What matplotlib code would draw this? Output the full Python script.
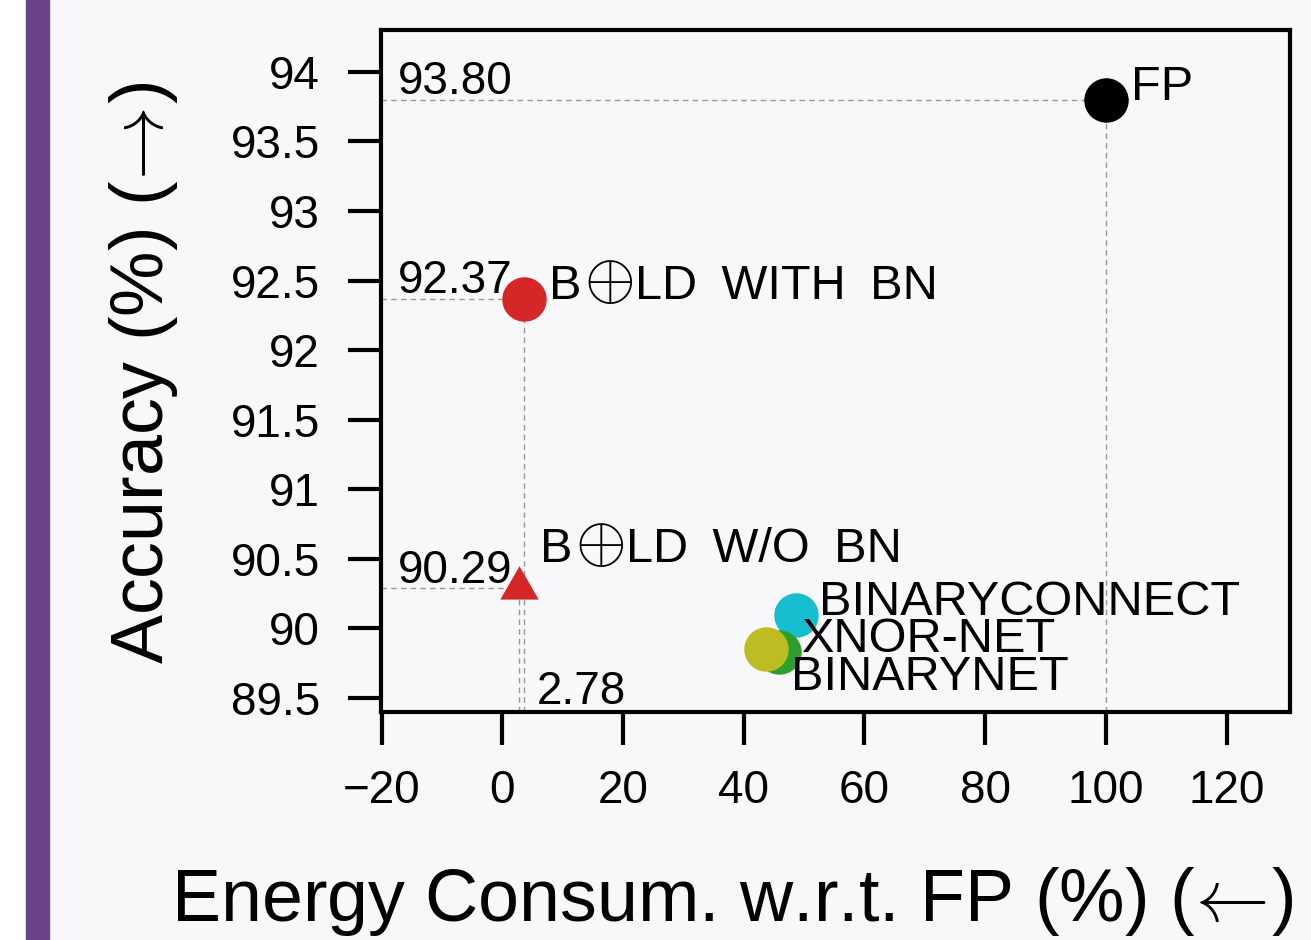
import numpy as np
import matplotlib.pyplot as plt
from matplotlib.patches import Rectangle

plt.rcParams['font.family'] = ['Liberation Sans', 'DejaVu Sans']
plt.rcParams['mathtext.fontset'] = 'cm'

# data: energy consumption w.r.t. FP (%) and accuracy (%)
names = ['FP', 'B\u2295LD WITH BN', 'B\u2295LD W/O BN',
         'BINARYCONNECT', 'XNOR-NET', 'BINARYNET']
energy = [100, 3.6, 2.78, 48.6, 45.8, 43.7]
acc = [93.80, 92.37, 90.29, 90.10, 89.83, 89.85]
colors = ['black', '#d62728', '#d62728', '#17becf', '#2ca02c', '#bcbd22']
markers = ['o', 'o', (3, 0, 0), 'o', 'o', 'o']
guides = [True, True, True, False, False, False]
offsets = [(18, 0), (18, 0), (15, 19), (17, 0), (17, 0), (18, -29)]

xticks = [-20, 0, 20, 40, 60, 80, 100, 120]
yticks = [89.5, 90, 90.5, 91, 91.5, 92, 92.5, 93, 93.5, 94]

bg = '#f8f8fb'
W, H = 1311, 940

fig = plt.figure(figsize=(W / 100, H / 100), dpi=100, facecolor=bg)
fig.patches.append(Rectangle((0, 0), 25.5 / W, 1, transform=fig.transFigure,
                             color='white', zorder=0))
fig.patches.append(Rectangle((25.5 / W, 0), 23.5 / W, 1, transform=fig.transFigure,
                             color='#6a4489', zorder=0))

ax = fig.add_axes([381 / W, 1 - 712 / H, 909 / W, 682 / H])
ax.set_facecolor(bg)
x0, x1 = -20.1, 130.5
y0, y1 = 89.4, 94.3
ax.set_xlim(x0, x1)
ax.set_ylim(y0, y1)

dash = (0, (4, 3))
for i in range(len(names)):
    if guides[i]:
        ax.hlines(acc[i], x0, energy[i], colors='#999999', linestyles=dash, lw=1, zorder=1)
        ax.vlines(energy[i], y0, acc[i], colors='#999999', linestyles=dash, lw=1, zorder=1)
        ax.annotate('%.2f' % acc[i], (x0, acc[i]), xytext=(12, 4),
                    textcoords='offset points', fontsize=33, va='baseline')
    ax.plot(energy[i], acc[i], marker=markers[i], ms=32, mew=0,
            color=colors[i], ls='none', zorder=3)

# energy value of the model without BN
ax.annotate('%.2f' % energy[2], (energy[2], y0), xytext=(13, 6),
            textcoords='offset points', fontsize=33, va='baseline')

# point labels; the circled plus is drawn bigger, like in the paper
rend = fig.canvas.get_renderer()
for i in range(len(names)):
    chunks = names[i].split('\u2295')
    parts = [(chunks[0], 35)]
    for c in chunks[1:]:
        parts += [('$\\oplus$', 47), (c.replace(' ', '\u2002'), 35)]
    dx, dy = offsets[i]
    for txt, fs in parts:
        t = ax.annotate(txt, (energy[i], acc[i]), xytext=(dx, dy),
                        textcoords='offset points', fontsize=fs,
                        va='baseline', zorder=4)
        dx += t.get_window_extent(rend).width * 72 / fig.dpi + 1.5

ax.set_xticks(xticks)
ax.set_yticks(yticks)
ax.set_yticklabels(['%g' % v for v in yticks])
ax.tick_params(axis='both', direction='out', length=24, width=3, labelsize=33)
ax.tick_params(axis='x', pad=17)
ax.tick_params(axis='y', pad=20)
for s in ax.spines.values():
    s.set_linewidth(3)

ax.set_xlabel('Energy Consum. w.r.t. FP (%) ($\\!\\leftarrow\\!$)', fontsize=53)
ax.xaxis.set_label_coords(0.387, -0.3065)
ax.xaxis.label.set_va('baseline')
ax.set_ylabel('Accuracy (%) ($\\!\\rightarrow\\!$)', fontsize=53)
ax.yaxis.set_label_coords(-0.2398, 0.497)
ax.yaxis.label.set_va('baseline')

fig.savefig('out.png', dpi=100, facecolor=bg)
